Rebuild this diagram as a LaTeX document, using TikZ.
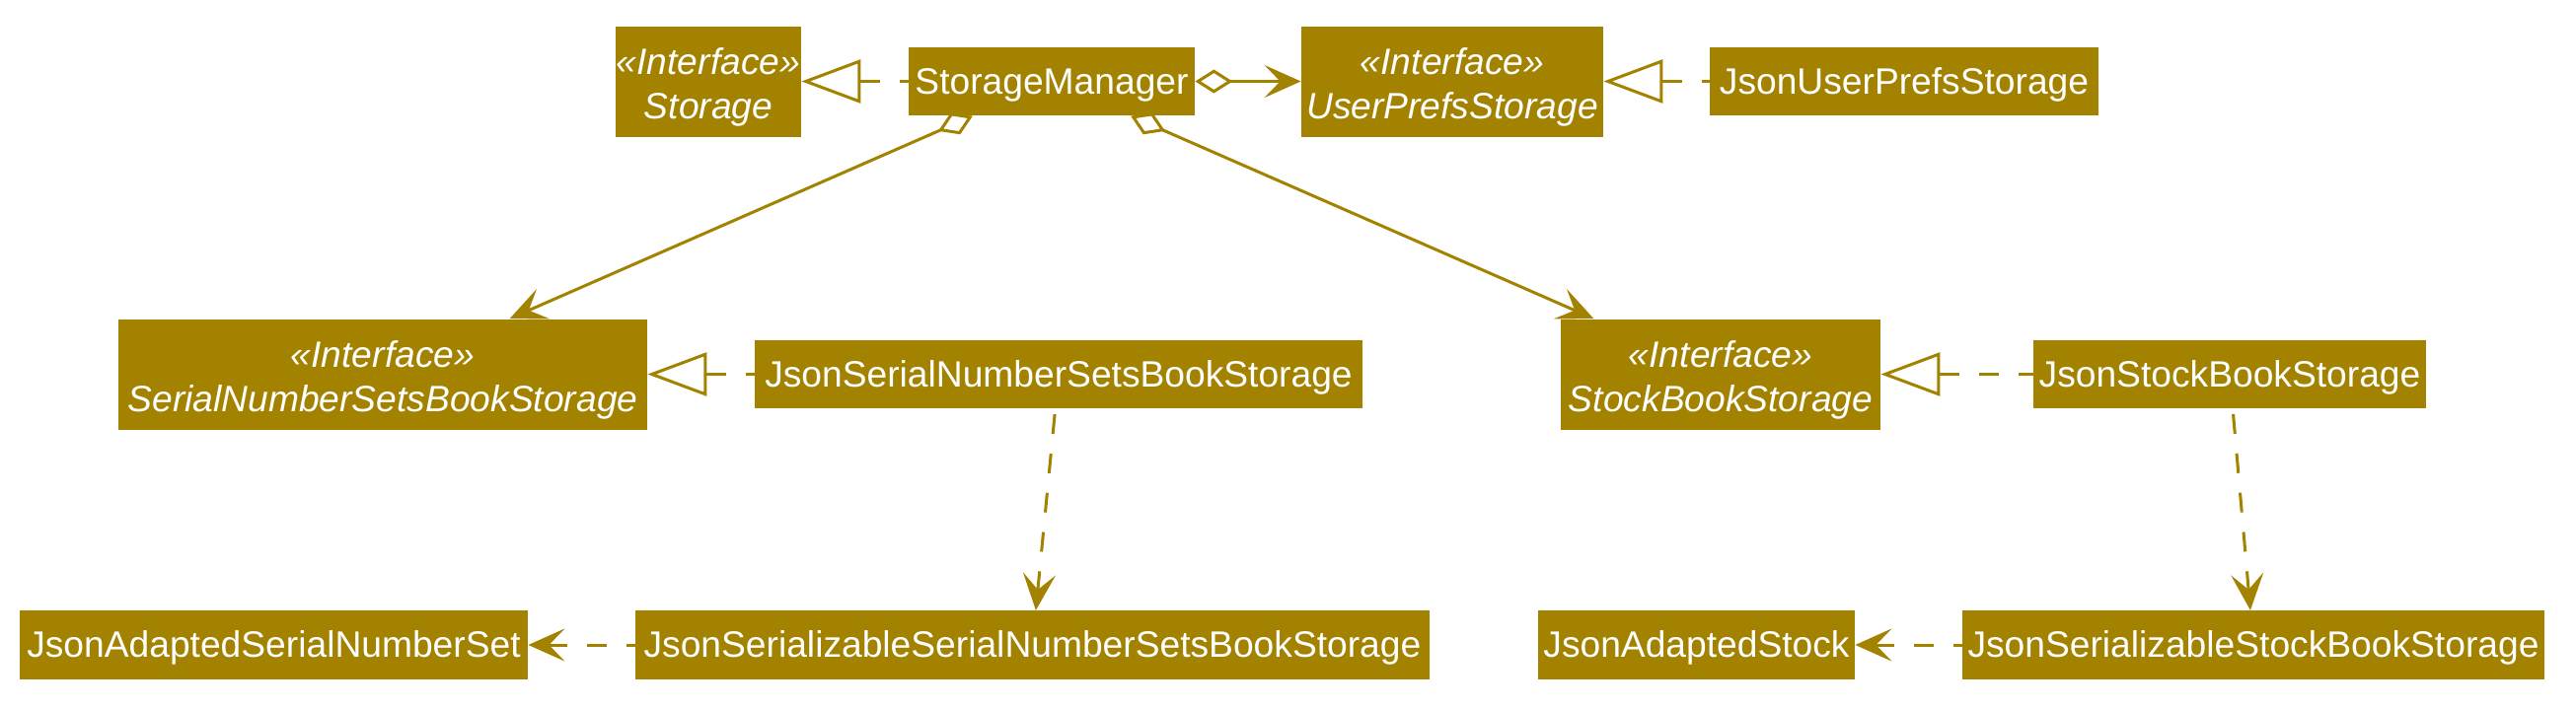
\documentclass[tikz,border=0pt]{standalone}
\usepackage{fontspec}
\setmainfont{Liberation Sans}
\usetikzlibrary{arrows.meta}
\definecolor{gold}{RGB}{163,130,0}
\begin{document}
\begin{tikzpicture}[x=0.5pt,y=-0.5pt,
  box/.style={fill=gold, text=white, inner sep=0pt, font=\fontsize{18.6}{23}\selectfont, text height=14pt, text depth=1.5pt, minimum height=34.75pt},
  iface/.style={fill=gold, text=white, inner sep=0pt, font=\fontsize{18.6}{22.6}\selectfont\itshape, align=center, text height=39.5pt, text depth=1.5pt, minimum height=56pt},
  conn/.style={draw=gold, line width=1.5pt},
  real/.style={conn, dash pattern=on 10pt off 10pt, {Triangle[open, length=30pt, width=22pt]}-},
  dep/.style={conn, dash pattern=on 10pt off 10pt, {Stealth[length=18.5pt, width=16.5pt, inset=8pt]}-},
  agg/.style={conn, {Diamond[open, length=19pt, width=12pt]}-{Stealth[length=18.5pt, width=16.5pt, inset=8pt]}},
]
\fill[white] (0,0) rectangle (2611,719);
\useasboundingbox (0,0) rectangle (2611,719);

\node[iface, minimum width=94pt] (storage) at (718,82.5) {«Interface»\\Storage};
\node[box, minimum width=145pt] (mgr) at (1066,82.5) {StorageManager};
\node[iface, minimum width=153pt] (ups) at (1472,82.5) {«Interface»\\UserPrefsStorage};
\node[box, minimum width=197pt] (jups) at (1930,82.5) {JsonUserPrefsStorage};

\node[iface, minimum width=268pt] (snsbs) at (388,379.5) {«Interface»\\SerialNumberSetsBookStorage};
\node[box, minimum width=308pt] (jsnsbs) at (1073,379.5) {JsonSerialNumberSetsBookStorage};
\node[iface, minimum width=162pt] (sbs) at (1744,379.5) {«Interface»\\StockBookStorage};
\node[box, minimum width=199pt] (jsbs) at (2260,379.5) {JsonStockBookStorage};

\node[box, minimum width=257.5pt] (jasns) at (277.5,654) {JsonAdaptedSerialNumberSet};
\node[box, minimum width=402.5pt] (jssnsbs) at (1046.5,654) {JsonSerializableSerialNumberSetsBookStorage};
\node[box, minimum width=160.5pt] (jas) at (1719.5,654) {JsonAdaptedStock};
\node[box, minimum width=295pt] (jssbs) at (2284,654) {JsonSerializableStockBookStorage};

\draw[real] (storage) -- (mgr);
\draw[agg] (mgr) -- (ups);
\draw[real] (ups) -- (jups);
\draw[agg] (mgr) -- (snsbs);
\draw[agg] (mgr) -- (sbs);
\draw[real] (snsbs) -- (jsnsbs);
\draw[real] (sbs) -- (jsbs);
\draw[dep] (jssnsbs) -- (jsnsbs);
\draw[dep] (jssbs) -- (jsbs);
\draw[dep] (jasns) -- (jssnsbs);
\draw[dep] (jas) -- (jssbs);
\end{tikzpicture}
\end{document}
